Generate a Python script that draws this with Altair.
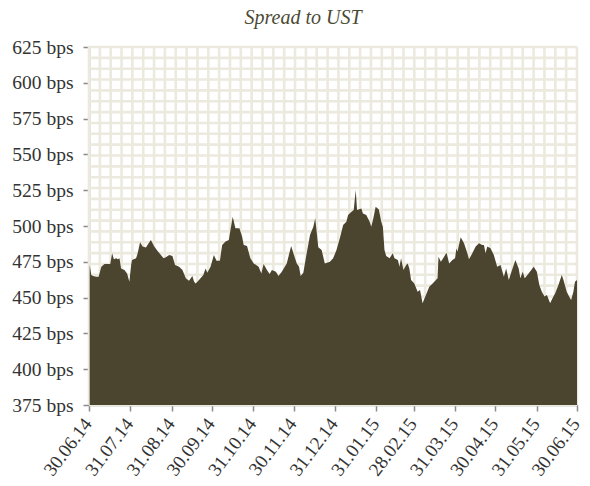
import altair as alt
import pandas as pd

# Day offsets from 30.06.2014 and spread values (bps)
day_offsets = [0.5, 1.7, 3.0, 5.5, 7.2, 9.2, 11.6, 15.9, 17.3, 18.6, 20.3, 21.6, 22.8, 24.0, 26.5, 28.5,
               30.2, 31.5, 32.2, 35.2, 36.4, 38.2, 40.1, 42.6, 44.6, 46.3, 48.8, 51.3, 53.8, 55.8, 57.5,
               60.0, 62.4, 64.4, 67.4, 69.9, 72.4, 74.8, 77.3, 78.6, 79.8, 82.3, 85.5, 87.2, 88.5, 90.9,
               93.4, 95.4, 97.9, 99.6, 102.1, 104.6, 105.8, 107.5, 109.5, 112.5, 114.5, 115.7, 118.2,
               120.7, 123.2, 126.9, 128.9, 130.6, 133.1, 135.1, 136.8, 139.8, 141.7, 144.2, 147.9, 151.2,
               152.9, 155.4, 157.1, 158.3, 160.3, 162.8, 165.3, 167.8, 169.2, 171.5, 174.0, 176.4, 180.2,
               182.6, 185.1, 187.6, 190.1, 192.5, 193.8, 196.3, 198.0, 199.5, 200.5, 203.7, 204.9, 207.4,
               209.9, 211.1, 212.4, 214.4, 216.8, 218.6, 219.8, 221.0, 222.3, 224.8, 227.2, 228.5, 231.0,
               232.2, 233.4, 235.2, 237.2, 238.4, 239.6, 240.9, 243.3, 245.8, 247.6, 249.5, 252.0, 254.5,
               257.0, 259.5, 260.7, 261.4, 263.2, 265.6, 267.4, 269.4, 271.8, 273.8, 274.8, 275.6, 278.0,
               280.5, 283.0, 284.2, 286.7, 289.2, 291.7, 294.1, 295.4, 296.6, 297.9, 300.3, 302.8, 305.3,
               307.8, 310.3, 312.0, 314.0, 316.4, 318.9, 321.4, 322.6, 324.4, 325.9, 328.8, 332.6, 335.0,
               336.8, 338.7, 340.7, 342.5, 344.9, 346.7, 348.7, 351.1, 353.6, 354.9, 357.3, 359.1, 360.6,
               362.3, 363.5, 365.0]
spread = [472.8, 465.8, 465.1, 464.6, 464.6, 471.6, 473.5, 473.5, 480.9, 476.7, 477.4, 476.7, 477.4, 470.4,
          469.3, 466.9, 461.1, 472.8, 476.3, 477.4, 480.9, 488.6, 485.6, 484.9, 487.9, 490.2, 485.6, 482.5,
          479.7, 477.4, 478.1, 479.7, 479.1, 472.8, 471.6, 469.3, 463.5, 461.8, 465.1, 461.1, 459.9, 462.3,
          465.8, 470.4, 467.4, 471.6, 479.7, 475.8, 475.8, 486.7, 489.1, 490.2, 497.2, 506.5, 498.4, 498.4,
          492.6, 486.7, 486.0, 477.4, 473.9, 471.6, 466.9, 473.5, 469.3, 466.5, 469.3, 468.1, 465.1, 468.1,
          473.9, 486.0, 480.9, 473.9, 471.6, 465.1, 467.4, 480.9, 493.7, 499.5, 505.4, 485.1, 483.2, 473.9,
          475.1, 477.4, 483.2, 491.4, 500.7, 503.0, 507.7, 510.0, 511.2, 525.1, 511.2, 512.3, 508.8, 507.7,
          503.0, 499.5, 504.2, 513.5, 511.6, 503.0, 499.5, 483.2, 479.0, 477.4, 480.9, 477.4, 476.3, 471.6,
          477.4, 469.3, 472.8, 473.9, 470.4, 462.3, 459.9, 454.1, 455.3, 446.0, 451.8, 457.6, 459.9, 462.3,
          463.5, 478.6, 475.1, 478.6, 481.4, 473.9, 476.3, 477.4, 484.4, 482.1, 492.1, 487.9, 480.9, 476.7,
          480.9, 485.6, 487.9, 486.7, 486.7, 480.9, 485.6, 484.4, 479.7, 471.6, 472.8, 464.6, 470.4, 462.3,
          469.3, 476.3, 470.4, 463.5, 468.1, 463.5, 466.9, 471.6, 468.1, 458.8, 454.1, 450.7, 451.8, 446.0,
          449.5, 453.0, 458.8, 465.8, 462.3, 454.1, 450.7, 448.3, 454.1, 461.1, 462.3]

tick_dates = ["2014-06-30", "2014-07-31", "2014-08-31", "2014-09-30", "2014-10-31", "2014-11-30",
              "2014-12-31", "2015-01-31", "2015-02-28", "2015-03-31", "2015-04-30", "2015-05-31",
              "2015-06-30"]
y_ticks = [375, 400, 425, 450, 475, 500, 525, 550, 575, 600, 625]

start = pd.Timestamp("2014-06-30")
end = pd.Timestamp("2015-06-30")
df = pd.DataFrame({
    "date": start + pd.to_timedelta(day_offsets, unit="D"),
    "spread": spread,
})

# background pattern grid (styling only)
n_v, n_h = 45, 33
vgrid = pd.DataFrame({"date": [start + (end - start) * k / n_v for k in range(n_v + 1)]})
hgrid = pd.DataFrame({"spread": [375 + 250 * k / n_h for k in range(n_h + 1)]})

xscale = alt.Scale(domain=[alt.DateTime(year=2014, month=6, date=30),
                           alt.DateTime(year=2015, month=6, date=30)], nice=False)
yscale = alt.Scale(domain=[375, 625], nice=False, zero=False)

label_font = "Liberation Serif"
xaxis = alt.Axis(values=[alt.DateTime(year=int(d[:4]), month=int(d[5:7]), date=int(d[8:]))
                         for d in tick_dates],
                 format="%d.%m.%y", labelAngle=-53, labelAlign="right",
                 labelBaseline="middle", labelPadding=9, labelOffset=-1.5, grid=False,
                 labelFont=label_font, labelFontSize=19, labelColor="#333333",
                 domainColor="#8a8a8a", domainWidth=1.5, tickColor="#8a8a8a",
                 tickWidth=1.5, tickSize=6, labelOverlap=False, labelFlush=False,
                 labelBound=False)
yaxis = alt.Axis(values=y_ticks, labelExpr="datum.value + ' bps'", grid=False,
                 labelFont=label_font, labelFontSize=19.5, labelColor="#333333",
                 labelPadding=10, domainColor="#8a8a8a", domainWidth=1.5,
                 tickColor="#8a8a8a", tickWidth=1.5, tickSize=6)

grid_col = "#ece9de"
vg = alt.Chart(vgrid).mark_rule(color=grid_col, strokeWidth=2.6).encode(
    x=alt.X("date:T", scale=xscale, title=None, axis=xaxis))
hg = alt.Chart(hgrid).mark_rule(color=grid_col, strokeWidth=2.6).encode(
    y=alt.Y("spread:Q", scale=yscale, title=None, axis=yaxis))

area = alt.Chart(df).mark_area(color="#4b452f", opacity=1, interpolate="linear", clip=True).encode(
    x=alt.X("date:T", scale=xscale, title=None, axis=xaxis),
    y=alt.Y("spread:Q", scale=yscale, title=None, axis=yaxis),
)

chart = alt.layer(vg, hg, area).properties(
    width=488, height=358,
    title=alt.Title("Spread to UST", font=label_font, fontStyle="italic", fontWeight="normal",
                    fontSize=20, color="#4b4a35", anchor="middle", dx=-30, offset=9),
    autosize=alt.AutoSizeParams(type="none"),
    padding={"left": 81, "top": 39, "right": 5, "bottom": 74},
).configure_view(stroke=None).configure(background="white")

chart.save("out.html", embed_options={"renderer": "svg", "actions": False})
